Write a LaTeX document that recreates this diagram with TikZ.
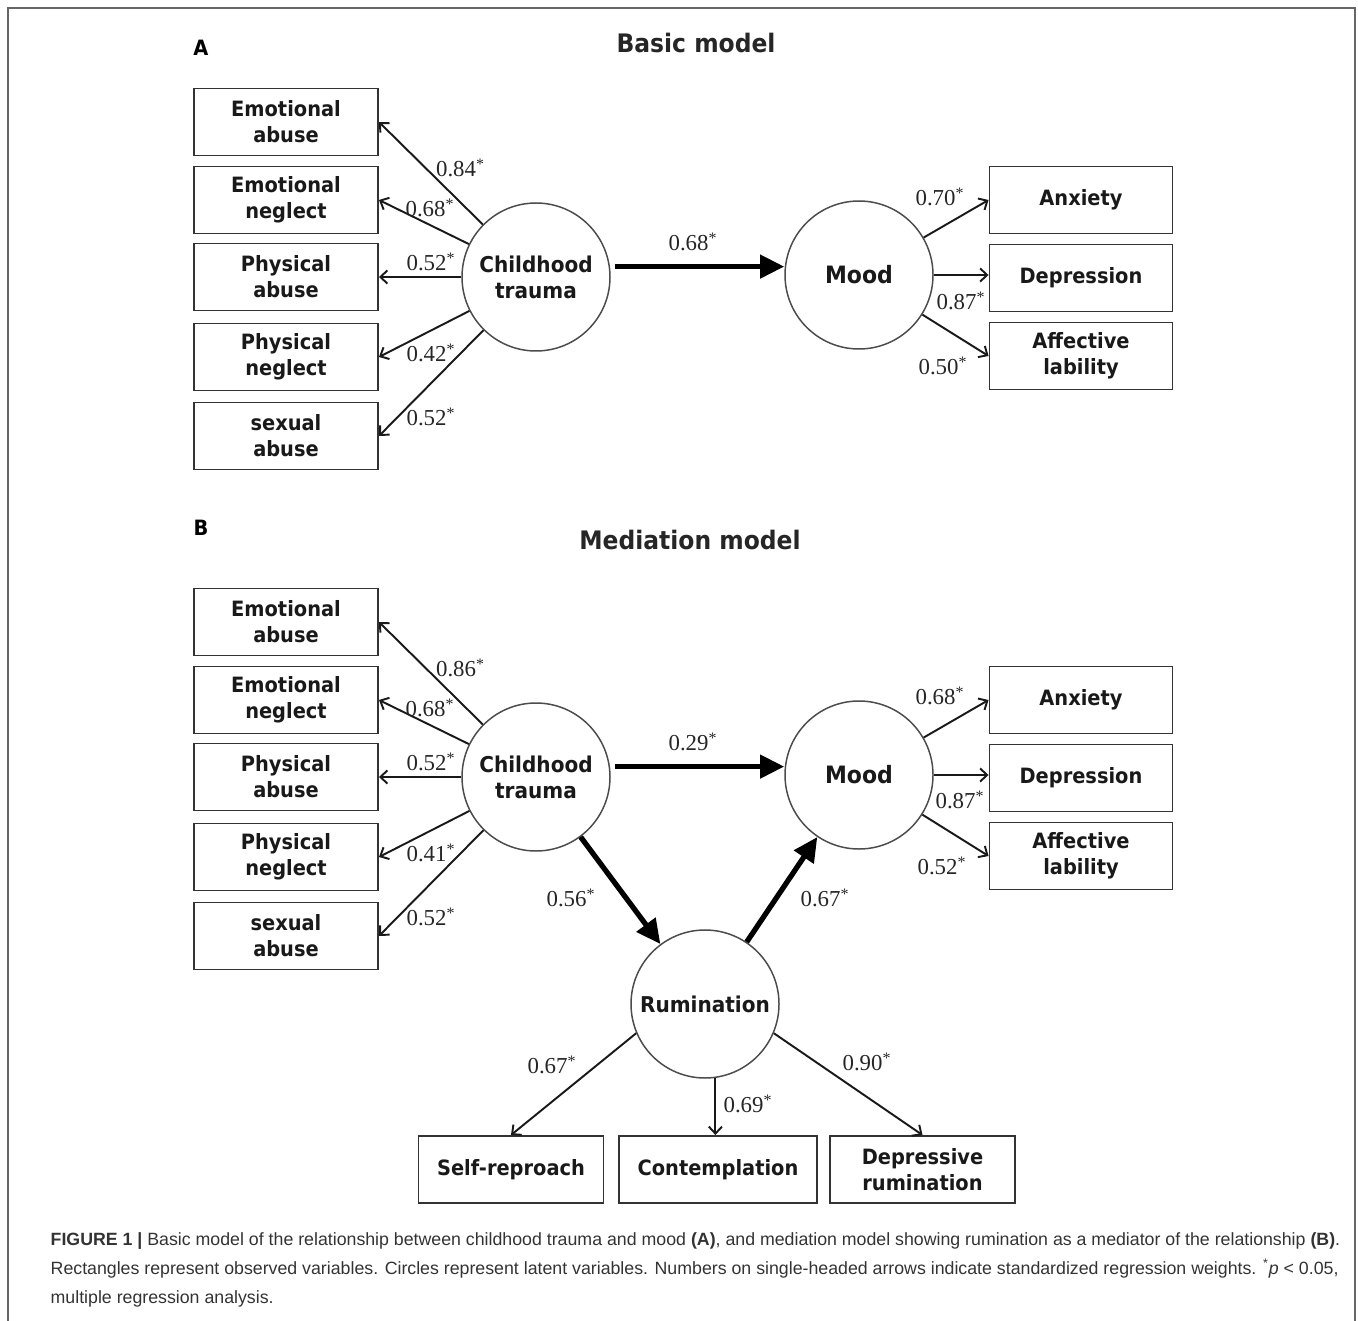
\documentclass[tikz,border=0pt]{standalone}
\usepackage{fontspec}
\usetikzlibrary{arrows.meta, calc, positioning}

\newfontfamily\lblfont[FakeStretch=0.92]{DejaVu Sans}
\newfontfamily\numfont{Liberation Serif}
\newfontfamily\capfont{Liberation Sans}

\begin{document}
\begin{tikzpicture}[>={Straight Barb[length=4pt, width=7.5pt]}, thick]
    \tikzset{
        obs_box/.style={draw=black!80, line width=1.1pt, minimum width=3.68cm, minimum height=1.34cm,
            align=center, inner sep=1pt, font=\lblfont\bfseries\fontsize{12}{14.7}\selectfont, text=black!90},
        latent/.style={circle, draw=black!70, line width=0.85pt, minimum size=2.96cm, inner sep=0pt,
            align=center, font=\lblfont\bfseries\fontsize{12.4}{14.7}\selectfont, text=black!90},
        load_arrow/.style={->, line width=1.1pt, black!90},
        main_arrow/.style={-{Triangle[length=13.8pt, width=13pt]}, line width=3pt, black},
        weight/.style={inner sep=0pt, font=\numfont\fontsize{13}{15}\selectfont, text=black!85},
        panel_title/.style={font=\lblfont\bfseries\fontsize{14.5}{17}\selectfont, text=black!85},
        panel_letter/.style={font=\lblfont\bfseries\fontsize{12}{14}\selectfont},
        caption/.style={anchor=base west, inner sep=0pt, text=black!80, font=\capfont\fontsize{10.1}{12}\selectfont}
    }
    \useasboundingbox (0,0) rectangle (27.16,-26.42);
    \draw[black!60, line width=0.8pt] (0.16,-26.42) -- (0.16,-0.16) -- (27.10,-0.16) -- (27.10,-26.42);

    % A: basic model
    \begin{scope}[local bounding box=BasicModel]
        \node[panel_letter] (A_lbl) at (4.02,-0.96) {A};
        \node[panel_title] (A_title) at (13.92,-0.86) {Basic model};

        \node[obs_box] (A_ea) at (5.72,-2.44) {Emotional\\abuse};
        \node[obs_box] (A_en) at (5.72,-4.00) {Emotional\\neglect};
        \node[obs_box] (A_pa) at (5.72,-5.54) {Physical\\abuse};
        \node[obs_box] (A_pn) at (5.72,-7.14) {Physical\\neglect};
        \node[obs_box] (A_sa) at (5.72,-8.72) {sexual\\abuse};

        \node[latent] (A_ct) at (10.72,-5.54) {Childhood\\trauma};
        \node[latent, font=\lblfont\bfseries\fontsize{13.6}{16}\selectfont] (A_mood) at (17.18,-5.50) {Mood};

        \node[obs_box, minimum width=3.66cm] (A_anx) at (21.62,-4.00) {Anxiety};
        \node[obs_box, minimum width=3.66cm] (A_dep) at (21.62,-5.56) {Depression};
        \node[obs_box, minimum width=3.66cm] (A_aff) at (21.62,-7.12) {Affective\\lability};

        \draw[load_arrow] (A_ct) -- (A_ea.east);
        \draw[load_arrow] (A_ct) -- (A_en.east);
        \draw[load_arrow] (A_ct) -- (A_pa.east);
        \draw[load_arrow] (A_ct) -- (A_pn.east);
        \draw[load_arrow] (A_ct) -- (A_sa.east);
        \draw[main_arrow, shorten <=3pt] (A_ct.8) -- (A_ct.8 -| A_mood.west);
        \draw[load_arrow] (A_mood) -- (A_anx.west);
        \draw[load_arrow] (A_mood.east) -- (A_mood.east -| A_dep.west);
        \draw[load_arrow] (A_mood) -- (A_aff.west);

        \node[weight] (A_w_ea) at (9.21,-3.36) {0.84\textsuperscript{*}};
        \node[weight] (A_w_en) at (8.60,-4.16) {0.68\textsuperscript{*}};
        \node[weight] (A_w_pa) at (8.62,-5.24) {0.52\textsuperscript{*}};
        \node[weight] (A_w_pn) at (8.62,-7.06) {0.42\textsuperscript{*}};
        \node[weight] (A_w_sa) at (8.62,-8.34) {0.52\textsuperscript{*}};
        \node[weight] (A_w_mood) at (13.86,-4.84) {0.68\textsuperscript{*}};
        \node[weight] (A_w_anx) at (18.80,-3.94) {0.70\textsuperscript{*}};
        \node[weight] (A_w_dep) at (19.22,-6.02) {0.87\textsuperscript{*}};
        \node[weight] (A_w_aff) at (18.86,-7.32) {0.50\textsuperscript{*}};
    \end{scope}

    % B: mediation model
    \begin{scope}[yshift=-10cm, local bounding box=MediationModel]
        \node[panel_letter] (B_lbl) at (4.02,-0.56) {B};
        \node[panel_title] (B_title) at (13.80,-0.80) {Mediation model};

        \node[obs_box] (B_ea) at (5.72,-2.44) {Emotional\\abuse};
        \node[obs_box] (B_en) at (5.72,-4.00) {Emotional\\neglect};
        \node[obs_box] (B_pa) at (5.72,-5.54) {Physical\\abuse};
        \node[obs_box] (B_pn) at (5.72,-7.14) {Physical\\neglect};
        \node[obs_box] (B_sa) at (5.72,-8.72) {sexual\\abuse};

        \node[latent] (B_ct) at (10.72,-5.54) {Childhood\\trauma};
        \node[latent, font=\lblfont\bfseries\fontsize{13.6}{16}\selectfont] (B_mood) at (17.18,-5.50) {Mood};
        \node[latent] (B_rum) at (14.10,-10.08) {Rumination};

        \node[obs_box, minimum width=3.66cm] (B_anx) at (21.62,-4.00) {Anxiety};
        \node[obs_box, minimum width=3.66cm] (B_dep) at (21.62,-5.56) {Depression};
        \node[obs_box, minimum width=3.66cm] (B_aff) at (21.62,-7.12) {Affective\\lability};

        \node[obs_box, minimum width=3.70cm] (B_self) at (10.22,-13.39) {Self-reproach};
        \node[obs_box, minimum width=3.96cm] (B_cont) at (14.36,-13.39) {Contemplation};
        \node[obs_box, minimum width=3.70cm] (B_drum) at (18.45,-13.39) {Depressive\\rumination};

        \draw[load_arrow] (B_ct) -- (B_ea.east);
        \draw[load_arrow] (B_ct) -- (B_en.east);
        \draw[load_arrow] (B_ct) -- (B_pa.east);
        \draw[load_arrow] (B_ct) -- (B_pn.east);
        \draw[load_arrow] (B_ct) -- (B_sa.east);
        \draw[main_arrow, shorten <=3pt] (B_ct.8) -- (B_ct.8 -| B_mood.west);
        \draw[main_arrow] (B_ct) -- (B_rum);
        \draw[main_arrow] (B_rum) -- (B_mood);
        \draw[load_arrow] (B_mood) -- (B_anx.west);
        \draw[load_arrow] (B_mood.east) -- (B_mood.east -| B_dep.west);
        \draw[load_arrow] (B_mood) -- (B_aff.west);
        \draw[load_arrow] (B_rum.203) -- (B_self.north);
        \draw[load_arrow] (B_rum.-82) -- (B_rum.-82 |- B_cont.north);
        \draw[load_arrow] (B_rum.-23) -- (B_drum.north);

        \node[weight] (B_w_ea) at (9.21,-3.36) {0.86\textsuperscript{*}};
        \node[weight] (B_w_en) at (8.60,-4.16) {0.68\textsuperscript{*}};
        \node[weight] (B_w_pa) at (8.62,-5.24) {0.52\textsuperscript{*}};
        \node[weight] (B_w_pn) at (8.62,-7.06) {0.41\textsuperscript{*}};
        \node[weight] (B_w_sa) at (8.62,-8.34) {0.52\textsuperscript{*}};
        \node[weight] (B_w_mood) at (13.86,-4.84) {0.29\textsuperscript{*}};
        \node[weight] (B_w_anx) at (18.80,-3.92) {0.68\textsuperscript{*}};
        \node[weight] (B_w_dep) at (19.20,-6.00) {0.87\textsuperscript{*}};
        \node[weight] (B_w_aff) at (18.84,-7.32) {0.52\textsuperscript{*}};
        \node[weight] (B_w_ctrum) at (11.42,-7.96) {0.56\textsuperscript{*}};
        \node[weight] (B_w_rummood) at (16.50,-7.96) {0.67\textsuperscript{*}};
        \node[weight] (B_w_self) at (11.04,-11.30) {0.67\textsuperscript{*}};
        \node[weight] (B_w_cont) at (14.96,-12.08) {0.69\textsuperscript{*}};
        \node[weight] (B_w_drum) at (17.34,-11.24) {0.90\textsuperscript{*}};
    \end{scope}

    % caption
    \node[caption] (cap_1) at (1.00,-24.90) {\textbf{FIGURE 1 |} Basic model of the relationship between childhood trauma and mood \textbf{(A)}, and mediation model showing rumination as a mediator of the relationship \textbf{(B)}.};
    \node[caption] (cap_2) at (1.00,-25.48) {Rectangles represent observed variables. Circles represent latent variables. Numbers on single-headed arrows indicate standardized regression weights. \textsuperscript{*}\textit{p} < 0.05,};
    \node[caption] (cap_3) at (1.00,-26.06) {multiple regression analysis.};
\end{tikzpicture}
\end{document}
